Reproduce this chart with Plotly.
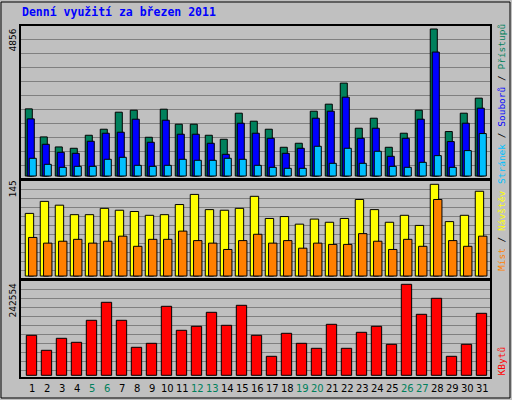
import plotly.graph_objects as go

days = list(range(1, 32))
day_labels = [str(d) for d in days]
weekend_days = [5, 6, 12, 13, 19, 20, 26, 27]
hits = [2218,1291,960,916,1346,1545,2108,2174,1280,2207,1711,1711,1346,1214,2075,1810,1545,949,1082,2141,2373,3068,1578,1909,949,1413,2174,4856,1468,2075,2571]
files = [1887,1048,784,750,1148,1413,1446,1876,1115,1843,1380,1380,1082,717,1744,1413,1247,750,916,1909,2141,2604,1247,1578,651,1247,1876,4094,1137,1744,2240]
pages = [585,386,287,320,320,552,618,353,320,353,552,519,519,585,552,353,287,254,254,982,419,916,419,817,320,287,452,673,287,839,1402]
visits = [99,118,112,97,97,107,104,102,96,97,113,129,105,104,107,126,91,94,82,90,85,91,121,105,85,96,80,145,86,96,134]
sites = [61,52,55,58,52,55,63,47,58,58,71,56,52,42,56,66,52,56,44,52,50,50,67,55,42,58,47,121,56,47,63]
kbytes = [106620,66638,98624,87962,146603,194582,146603,74634,85296,183920,119948,130610,167927,133275,186585,106620,50645,111951,85296,71969,135941,71969,114617,130610,82631,242554,162596,205244,50645,82631,165261]

fig = go.Figure()
line = dict(color="black", width=1)
def bar(y, color, off, w, ax):
    fig.add_trace(go.Bar(x=days, y=y, marker=dict(color=color, line=line),
                         offset=off, width=w, xaxis="x" + ax, yaxis="y" + ax))
bar(hits, "#00805C", -0.4, 0.47, "")
bar(files, "#0000FF", -0.267, 0.47, "")
bar(pages, "#00C0FF", -0.133, 0.47, "")
bar(visits, "#FFFF00", -0.4, 0.56, "2")
bar(sites, "#FF8000", -0.18, 0.56, "2")
bar(kbytes, "#FF0000", -0.33, 0.69, "3")

xd = [20/512, 491/512]
common_x = dict(domain=xd, range=[0.25, 31.65], showticklabels=False, showgrid=False,
                zeroline=False, showline=False, fixedrange=True)
gy = dict(showticklabels=False, showgrid=True, gridcolor="#808080", gridwidth=1,
          zeroline=False, showline=False, tickmode="linear")
fig.update_layout(
    width=512, height=400, margin=dict(l=0, r=0, t=0, b=0),
    paper_bgcolor="#C0C0C0", plot_bgcolor="#C0C0C0", showlegend=False, barmode="overlay",
    xaxis=dict(common_x, anchor="y"), xaxis2=dict(common_x, anchor="y2"), xaxis3=dict(common_x, anchor="y3"),
    yaxis=dict(gy, domain=[1-179/400, 1-25/400], range=[-99, 4988], tick0=363, dtick=462),
    yaxis2=dict(gy, domain=[1-279/400, 1-180/400], range=[-4.7, 151.8], tick0=9.5, dtick=14.2),
    yaxis3=dict(gy, domain=[1-378/400, 1-280/400], range=[-7200, 254014], tick0=13325, dtick=23987),
)

shapes = [
    dict(type="rect", xref="paper", yref="paper", x0=1/512, x1=510/512, y0=2/400, y1=398/400,
         line=dict(color="black", width=1)),
]
for y0, y1 in [(179, 25), (279, 180), (378, 280)]:
    shapes.append(dict(type="rect", xref="paper", yref="paper", x0=20/512, x1=491/512,
                       y0=1-y0/400, y1=1-y1/400, line=dict(color="black", width=2)))
fig.update_layout(shapes=shapes)

mono = "DejaVu Sans Mono"
ann = [
    dict(x=20/512, y=1-12/400, text="<b>Denní využití za březen 2011</b>", xanchor="left", yanchor="middle",
         font=dict(family=mono, size=11.5, color="#0000FF")),
    dict(x=12/512, y=1-27/400, text="4856", textangle=-90, xanchor="center", yanchor="top",
         font=dict(family=mono, size=9.5, color="black")),
    dict(x=12/512, y=1-179/400, text="145", textangle=-90, xanchor="center", yanchor="top",
         font=dict(family=mono, size=9.5, color="black")),
    dict(x=12/512, y=1-281/400, text="242554", textangle=-90, xanchor="center", yanchor="top",
         font=dict(family=mono, size=9.5, color="black")),
    dict(x=501/512, y=1-186/400, textangle=-90, xanchor="center", yanchor="bottom",
         text="<span style='color:#00C0FF'>Stránek</span> / <span style='color:#0000FF'>Souborů</span> / <span style='color:#00805C'>Přístupů</span>",
         font=dict(family=mono, size=9.5, color="black")),
    dict(x=501/512, y=1-273/400, textangle=-90, xanchor="center", yanchor="bottom",
         text="<span style='color:#FF8000'>Míst</span> / <span style='color:#FFFF00'>Návštěv</span>",
         font=dict(family=mono, size=9.5, color="black")),
    dict(x=501/512, y=1-378/400, textangle=-90, xanchor="center", yanchor="bottom",
         text="<span style='color:#FF0000'>KBytů</span>",
         font=dict(family=mono, size=9.5, color="black")),
]
for d, lab in zip(days, day_labels):
    ann.append(dict(x=d+0.05, y=1-388/400, xref="x3", yref="paper", text=lab, showarrow=False,
                    xanchor="center", yanchor="middle",
                    font=dict(family="DejaVu Sans", size=10,
                              color="#00805C" if d in weekend_days else "black")))
for a in ann:
    a.setdefault("xref", "paper"); a.setdefault("yref", "paper"); a["showarrow"] = False
fig.update_layout(annotations=ann)
fig.write_html("out.html", config={"displayModeBar": False},
               post_script="document.body.style.margin='0';document.body.style.overflow='hidden';")
